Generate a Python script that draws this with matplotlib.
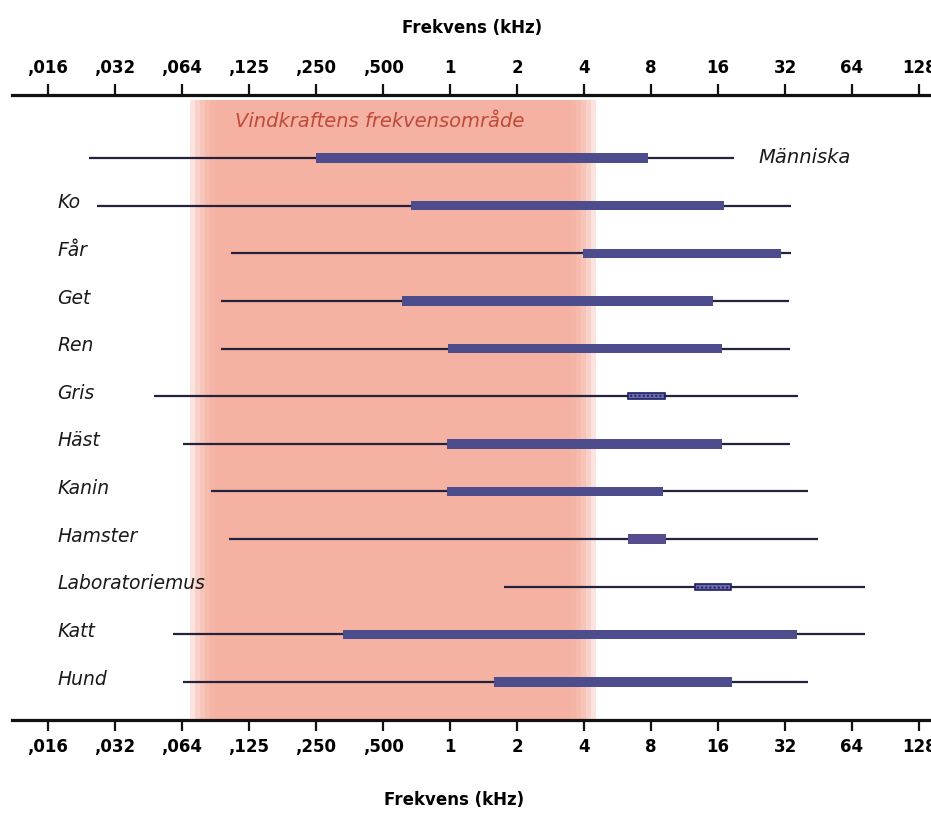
import matplotlib
matplotlib.use('Agg')
import matplotlib.pyplot as plt
import matplotlib.transforms as mtransforms

#Hearing ranges in kHz (thin line = total range, thick bar = best range)
animals = ['Människa', 'Ko', 'Får', 'Get', 'Ren', 'Gris', 'Häst', 'Kanin',
           'Hamster', 'Laboratoriemus', 'Katt', 'Hund']
range_lo = [0.024, 0.026, 0.104, 0.094, 0.094, 0.047, 0.063, 0.084, 0.102, 1.75, 0.057, 0.063]
range_hi = [18.9, 34.0, 34.0, 33.4, 33.7, 36.6, 33.7, 40.6, 45.0, 73.0, 73.0, 40.6]
best_lo = [0.25, 0.67, 3.96, 0.61, 0.98, 6.3, 0.97, 0.97, 6.3, 12.6, 0.33, 1.58]
best_hi = [7.75, 17.0, 30.7, 15.2, 16.7, 9.25, 16.7, 9.06, 9.3, 18.3, 36.2, 18.5]
hollow = ['Gris', 'Laboratoriemus']

#Wind power frequency range (kHz), core of the band
wind_lo, wind_hi = 0.088, 3.5

tick_freqs = [2.0 ** k for k in range(-6, 8)]
tick_labels = [',016', ',032', ',064', ',125', ',250', ',500', '1', '2', '4', '8',
               '16', '32', '64', '128']

W, H = 931, 814
fig = plt.figure(figsize=(W / 100, H / 100), dpi=100)
# axes spans between the two axis lines (pixel 95 to 720)
ax = fig.add_axes([12 / W, (H - 720) / H, (W - 12) / W, 625 / H])
ax.set_xscale('log', base=2)
ax.set_xlim(2 ** (-438 / 67), 2 ** (481 / 67))
row_px = 47.64
ax.set_ylim((720 - 158) / row_px, (95 - 158) / row_px)

#Pink band with soft edges
pink = '#f5a896'
for k in range(6):
    f = 2 ** (0.075 * k)
    ax.axvspan(wind_lo / f, wind_hi * f, ymax=0.992, color=pink, alpha=0.3, lw=0, zorder=0)
ax.text(0.108, (122 - 158) / row_px, 'Vindkraftens frekvensområde',
        fontsize=14, style='italic', color='#bf4a3c', va='center', ha='left')

label_tr = mtransforms.blended_transform_factory(ax.transAxes, ax.transData)
bar_h = 9.5 / row_px
for i, name in enumerate(animals):
    ax.hlines(i, range_lo[i], range_hi[i], color='#23233f', lw=1.6, zorder=2)
    if name in hollow:
        ax.barh(i, best_hi[i] - best_lo[i], left=best_lo[i], height=6.5 / row_px,
                color='#6d6da8', edgecolor='#1e1e6a', lw=1.2, hatch='....', zorder=3)
    elif name == 'Hamster':
        ax.barh(i, best_hi[i] - best_lo[i], left=best_lo[i], height=bar_h,
                color='#574d8e', lw=0, zorder=3)
    else:
        ax.barh(i, best_hi[i] - best_lo[i], left=best_lo[i], height=bar_h,
                color='#4d4c8c', lw=0, zorder=3)
    if name == 'Människa':
        ax.text((758 - 12) / (W - 12), i, name, transform=label_tr, fontsize=14,
                style='italic', va='center', ha='left', color='#1a1a1a')
    else:
        ax.text((57 - 12) / (W - 12), i - 0.06, name, transform=label_tr, fontsize=13.5,
                style='italic', va='center', ha='left', color='#1a1a1a')

#Axis lines at top and bottom
for side in ['left', 'right']:
    ax.spines[side].set_visible(False)
for side in ['top', 'bottom']:
    ax.spines[side].set_linewidth(2.3)
    ax.spines[side].set_color('#111111')
ax.set_yticks([])
ax.set_xticks(tick_freqs)
ax.set_xticklabels(tick_labels)
ax.xaxis.set_minor_locator(matplotlib.ticker.NullLocator())
ax.tick_params(axis='x', which='major', top=True, bottom=True, labeltop=True,
               direction='out', length=8, width=1.6, pad=5, labelsize=12,
               color='#111111')
for t in ax.xaxis.get_major_ticks():
    t.label1.set_fontweight('bold')
    t.label2.set_fontweight('bold')

fig.text(472 / W, 1 - 28 / H, 'Frekvens (kHz)', ha='center', va='center',
         fontsize=12, fontweight='bold')
fig.text(454 / W, 1 - 800 / H, 'Frekvens (kHz)', ha='center', va='center',
         fontsize=12, fontweight='bold')

plt.savefig('out.png', dpi=100)
print("Created out.png")
